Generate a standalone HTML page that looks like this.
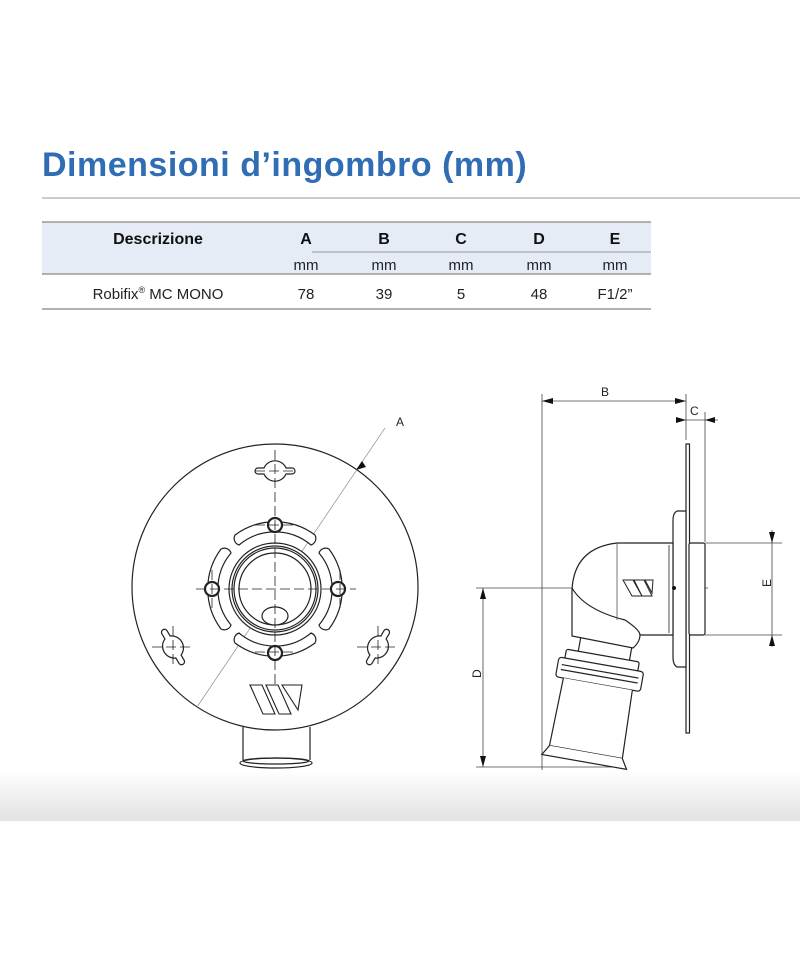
<!DOCTYPE html>
<html><head><meta charset="utf-8"><style>
html,body{margin:0;padding:0;background:#fff;width:800px;height:960px;overflow:hidden;position:relative;font-family:"Liberation Sans",Arial,sans-serif}
.t{position:absolute;left:42px;top:146px;font-size:34px;font-weight:bold;color:#2f6db4;letter-spacing:0.5px;white-space:nowrap}
.g{position:absolute;left:0;top:770px;width:800px;height:51px;background:linear-gradient(#fff,#e2e2e2)}
svg{position:absolute;left:0;top:0}
</style></head><body>
<div class="g"></div>
<div class="t">Dimensioni d’ingombro (mm)</div>
<svg width="800" height="960" viewBox="0 0 800 960" font-family="Liberation Sans, Arial, sans-serif">
<line x1="42" y1="198" x2="800" y2="198" stroke="#999" stroke-width="1"/>
<rect x="42" y="222" width="609" height="52" fill="#e6ecf6"/>
<line x1="42" y1="222" x2="651" y2="222" stroke="#888" stroke-width="1.2"/>
<line x1="312" y1="252" x2="651" y2="252" stroke="#999"/>
<line x1="42" y1="274" x2="651" y2="274" stroke="#888" stroke-width="1.2"/>
<line x1="42" y1="309" x2="651" y2="309" stroke="#999" stroke-width="1.5"/>
<g font-size="16" font-weight="bold" fill="#111" text-anchor="middle">
<text x="158" y="244">Descrizione</text><text x="306" y="244">A</text><text x="384" y="244">B</text><text x="461" y="244">C</text><text x="539" y="244">D</text><text x="615" y="244">E</text></g>
<g font-size="15" fill="#222" text-anchor="middle">
<text x="306" y="270">mm</text><text x="384" y="270">mm</text><text x="461" y="270">mm</text><text x="539" y="270">mm</text><text x="615" y="270">mm</text>
<text x="158" y="299">Robifix<tspan font-size="9" dy="-6">®</tspan><tspan dy="6"> MC MONO</tspan></text>
<text x="306" y="299">78</text><text x="384" y="299">39</text><text x="461" y="299">5</text><text x="539" y="299">48</text><text x="615" y="299">F1/2”</text></g>

<!-- FRONT VIEW -->
<g fill="none" stroke="#222" stroke-width="1.2">
<path d="M243 727 L243 760 M310 727 L310 760"/>
<ellipse cx="276" cy="763" rx="36" ry="5" fill="#fff"/>
<ellipse cx="276" cy="761" rx="33" ry="3"/>
<circle cx="275" cy="587" r="143" fill="#fff"/>
</g>
<line x1="197" y1="707" x2="385" y2="428" stroke="#999" stroke-width="0.8"/>
<polygon points="362,461 356,470 366,467" fill="#111"/>
<text x="396" y="426" font-size="12" fill="#222">A</text>
<g fill="#fff" stroke="#222" stroke-width="1.2">
<g transform="translate(275,471)"><path d="M-11 -3 A12 12 0 0 1 11 -3 h6 a3 3 0 0 1 0 6 h-6 A12 12 0 0 1 -11 3 h-6 a3 3 0 0 1 0 -6 z"/></g>
<g transform="translate(173,647) rotate(60)"><path d="M-11 -3 A12 12 0 0 1 11 -3 h6 a3 3 0 0 1 0 6 h-6 A12 12 0 0 1 -11 3 h-6 a3 3 0 0 1 0 -6 z"/></g>
<g transform="translate(378,647) rotate(-60)"><path d="M-11 -3 A12 12 0 0 1 11 -3 h6 a3 3 0 0 1 0 6 h-6 A12 12 0 0 1 -11 3 h-6 a3 3 0 0 1 0 -6 z"/></g>
<g transform="translate(275,589)">
<path d="M-40 -54 A67 67 0 0 1 40 -54 A7 7 0 0 1 36 -44 A56 56 0 0 0 -36 -44 A7 7 0 0 1 -40 -54 Z"/>
<path d="M-40 -54 A67 67 0 0 1 40 -54 A7 7 0 0 1 36 -44 A56 56 0 0 0 -36 -44 A7 7 0 0 1 -40 -54 Z" transform="rotate(90)"/>
<path d="M-40 -54 A67 67 0 0 1 40 -54 A7 7 0 0 1 36 -44 A56 56 0 0 0 -36 -44 A7 7 0 0 1 -40 -54 Z" transform="rotate(180)"/>
<path d="M-40 -54 A67 67 0 0 1 40 -54 A7 7 0 0 1 36 -44 A56 56 0 0 0 -36 -44 A7 7 0 0 1 -40 -54 Z" transform="rotate(270)"/>
<circle cx="0" cy="0" r="46"/><circle cx="0" cy="0" r="43"/><circle cx="0" cy="0" r="41"/><circle cx="0" cy="0" r="36"/>
<ellipse cx="0" cy="27" rx="13" ry="9"/>
<circle cx="0" cy="-64" r="7" stroke-width="2.2"/><circle cx="0" cy="64" r="7" stroke-width="2.2"/>
<circle cx="-63" cy="0" r="7" stroke-width="2.2"/><circle cx="63" cy="0" r="7" stroke-width="2.2"/>
</g>
</g>
<g stroke="#222" stroke-width="0.8" stroke-dasharray="10,4" fill="none">
<line x1="275" y1="450" x2="275" y2="705"/>
<line x1="196" y1="589" x2="356" y2="589"/>
<line x1="255" y1="525" x2="295" y2="525"/><line x1="255" y1="652" x2="295" y2="652"/>
<line x1="212" y1="570" x2="212" y2="608"/><line x1="340" y1="570" x2="340" y2="608"/>
<line x1="255" y1="471" x2="295" y2="471"/>
<line x1="152" y1="647" x2="194" y2="647"/><line x1="173" y1="626" x2="173" y2="668"/>
<line x1="357" y1="647" x2="399" y2="647"/><line x1="378" y1="626" x2="378" y2="668"/>
</g>
<g fill="#fff" stroke="#222" stroke-width="1.1">
<polygon points="250,685 262,685 275,714 263,714"/>
<polygon points="266,685 278,685 291,714 279,714"/>
<polygon points="282,685 302,685 298,710"/>
</g>

<!-- SIDE VIEW -->
<g stroke="#444" stroke-width="0.8" fill="none">
<line x1="542" y1="394" x2="542" y2="770"/>
<line x1="686" y1="394" x2="686" y2="440"/>
<line x1="705" y1="412" x2="705" y2="542"/>
<line x1="542" y1="401" x2="686" y2="401"/>
<line x1="676" y1="420" x2="718" y2="420"/>
<line x1="705" y1="543" x2="782" y2="543"/><line x1="705" y1="635" x2="782" y2="635"/>
<line x1="772" y1="530" x2="772" y2="647"/>
<line x1="476" y1="588" x2="708" y2="588"/>
<line x1="476" y1="767" x2="612" y2="767"/>
<line x1="483" y1="588" x2="483" y2="767"/>
</g>
<g fill="#111">
<polygon points="542,401 553,398 553,404"/><polygon points="686,401 675,398 675,404"/>
<polygon points="686,420 676,417 676,423"/><polygon points="705,420 715,417 715,423"/>
<polygon points="772,543 769,532 775,532"/><polygon points="772,635 769,646 775,646"/>
<polygon points="483,588 480,599 486,599"/><polygon points="483,767 480,756 486,756"/>
</g>
<text x="601" y="396" font-size="12" fill="#222">B</text>
<text x="690" y="415" font-size="12" fill="#222">C</text>
<text x="767" y="591" font-size="12" fill="#222" transform="rotate(-90 767 587)">E</text>
<text x="477" y="682" font-size="12" fill="#222" transform="rotate(-90 477 678)">D</text>
<g fill="#fff" stroke="#222" stroke-width="1.2">
<rect x="686" y="444" width="3.5" height="289"/>
<rect x="689" y="543" width="16" height="92" rx="2"/>
<path d="M686 511 L677 511 Q673 513 673 520 L673 657 Q673 665 677 667 L686 667 Z"/>
<g transform="rotate(10 590 700)">
<rect x="570" y="637" width="52" height="22"/>
<rect x="558" y="654" width="74" height="10" rx="2"/>
<rect x="552" y="663" width="86" height="20" rx="3"/>
<line x1="556" y1="670" x2="634" y2="670"/><line x1="556" y1="675" x2="634" y2="675"/>
<path d="M560 683 L558 752 L632 752 L630 683"/>
<path d="M558 752 L552 762 L638 762 L632 752"/>
</g>
<path d="M673 543 L617 543 Q574 548 572 590 L572 636 L633 648 Q640 642 640 635 L673 635 Z"/>
<path d="M572 588 Q585 610 625 620 Q640 630 640 635" fill="none"/>
<line x1="617" y1="543" x2="617" y2="620" stroke="#555" stroke-width="0.8"/>
<line x1="669" y1="545" x2="669" y2="633" stroke-width="0.8"/>
</g>
<g fill="#fff" stroke="#222" stroke-width="1">
<polygon points="623,580 633,580 642,596 632,596"/>
<polygon points="634,580 644,580 652,596 642,596"/>
<polygon points="645,580 653,580 652,593"/>
</g>
<circle cx="674" cy="588" r="2" fill="#111"/>
</svg>
</body></html>
